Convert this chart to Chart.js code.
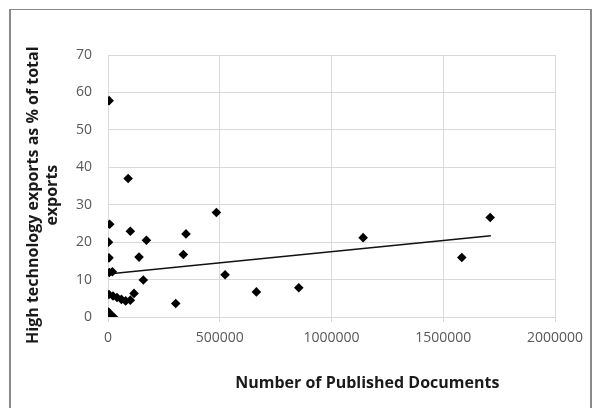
<!DOCTYPE html>
<html><head><meta charset="utf-8">
<script src="https://cdn.jsdelivr.net/npm/chart.js@4/dist/chart.umd.min.js"></script>
<style>
html,body{margin:0;padding:0;background:#fff;overflow:hidden;}
#wrap{position:relative;width:592px;height:408px;}
#frame{position:absolute;left:9px;top:9px;width:579px;height:500px;border-left:2px solid #8a8a8a;border-top:1px solid #8a8a8a;border-right:2px solid #8a8a8a;pointer-events:none;}
</style></head>
<body><div id="wrap"><canvas id="c" width="592" height="408"></canvas><div id="frame"></div></div>
<script>
// Number of published documents (x) and high-tech exports % (y)
const docs = [5000, 90000, 485000, 7600, 100000, 171900, 349000, 2000, 337000, 138800, 4500, 6000, 19700, 523800, 158000, 116400, 4500, 22400, 40300, 60000, 79000, 100000, 303000, 664000, 853600, 1141500, 1583000, 1710000, 3000, 2000, 8000, 15000, 25000, 5000];
const hiTech = [57.8, 37.0, 27.9, 24.8, 22.9, 20.5, 22.2, 20.0, 16.7, 16.0, 15.8, 11.9, 12.1, 11.3, 9.9, 6.3, 6.0, 5.6, 5.2, 4.7, 4.3, 4.5, 3.6, 6.7, 7.8, 21.2, 15.9, 26.6, 1.3, 0.4, 0.8, 0.0, 0.0, 0.1];
// Linear trendline endpoints
const trendX = [0, 1713000];
const trendY = [11.5, 21.7];
const xTicks = [0, 500000, 1000000, 1500000, 2000000];
const yTicks = [0, 10, 20, 30, 40, 50, 60, 70];
const xTitle = "Number of Published Documents";
const yTitle = ["High technology exports as % of total", "exports"];

const points = docs.map((d, i) => ({x: d, y: hiTech[i]}));
const trend = trendX.map((d, i) => ({x: d, y: trendY[i]}));

const titles = {
  id: 'titles',
  afterDraw(chart) {
    const ctx = chart.ctx;
    const a = chart.chartArea;
    ctx.save();
    ctx.fillStyle = '#1a1a1a';
    ctx.font = 'bold 16px "Open Sans"';
    ctx.textAlign = 'center';
    ctx.textBaseline = 'middle';
    ctx.fillText(xTitle, a.left + (a.right - a.left) * 0.58, a.bottom + 66);
    ctx.translate(a.left - 66, a.top + (a.bottom - a.top) * 0.535);
    ctx.rotate(-Math.PI / 2);
    ctx.fillText(yTitle[0], 0, -9);
    ctx.fillText(yTitle[1], 0, 10);
    ctx.restore();
  }
};

new Chart(document.getElementById('c'), {
  type: 'scatter',
  data: {
    datasets: [
      {data: points, pointStyle: 'rectRot', pointRadius: 4.8, backgroundColor: '#000', borderColor: '#000', borderWidth: 0, order: 1},
      {type: 'line', data: trend, borderColor: '#111', borderWidth: 1.5, pointRadius: 0, fill: false, order: 2}
    ]
  },
  options: {
    responsive: false,
    animation: false,
    layout: {padding: {left: 0, top: 55, right: 37, bottom: 0}},
    plugins: {legend: {display: false}, tooltip: {enabled: false}},
    scales: {
      x: {
        type: 'linear', min: 0, max: 2000000,
        afterBuildTicks: s => { s.ticks = xTicks.map(v => ({value: v})); },
        afterFit: s => { s.height = 91; },
        ticks: {color: '#595959', font: {family: '"Open Sans"', size: 14}, padding: 8, maxRotation: 0, callback: v => String(v)},
        grid: {color: '#d9d9d9', lineWidth: 1, drawTicks: true, tickLength: 5, tickColor: '#d9d9d9'},
        border: {color: '#d9d9d9'}
      },
      y: {
        min: 0, max: 70,
        afterBuildTicks: s => { s.ticks = yTicks.map(v => ({value: v})); },
        afterFit: s => { s.width = 108; },
        ticks: {color: '#595959', font: {family: '"Open Sans"', size: 14}, padding: 16},
        grid: {color: '#d9d9d9', lineWidth: 1, drawTicks: false},
        border: {color: '#d9d9d9'}
      }
    }
  },
  plugins: [titles]
});
</script></body></html>
